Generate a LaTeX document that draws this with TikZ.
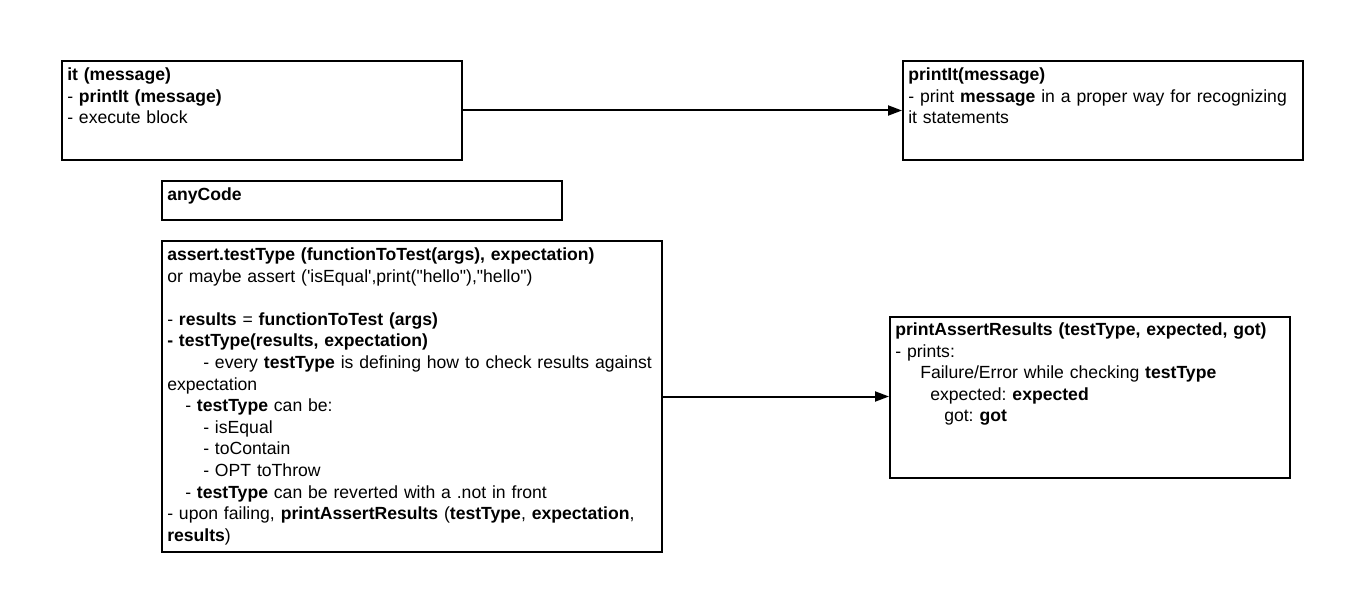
\documentclass[tikz,border=0pt]{standalone}
\usepackage{fontspec}
\setmainfont{Liberation Sans}[Ligatures=TeXOff]
\usetikzlibrary{arrows.meta}
\frenchspacing
\begin{document}
\begin{tikzpicture}[x=0.75pt,y=-0.75pt,
  box/.style={draw=black, line width=1.5pt, fill=white, inner sep=0pt},
  txt/.style={anchor=base west, inner sep=0pt, text width=525pt, align=left,
    font=\fontsize{13.2}{16.2}\selectfont\frenchspacing},
  link/.style={line width=1.5pt, -{Triangle[length=10.5pt,width=7.5pt]}}]
\useasboundingbox (0,0) rectangle (1359,609);

% frames
\node[box, minimum width=300pt, minimum height=74.25pt] (it) at (262,110.5) {};
\node[box, minimum width=300pt, minimum height=74.25pt] (printit) at (1103,110.5) {};
\node[box, minimum width=300pt, minimum height=29.25pt] (anycode) at (362,200.5) {};
\node[box, minimum width=375pt, minimum height=233.25pt] (assert) at (412,396.5) {};
\node[box, minimum width=300pt, minimum height=120.75pt] (printassert) at (1090,397.5) {};

% contents
\node[txt] (itText) at (67,80.5) {\textbf{it (message)}\\
- \textbf{printIt (message)}\\
- execute block};

\node[txt] (printitText) at (908,80.5) {\textbf{printIt(message)}\\
- print \textbf{message} in a proper way for recognizing\\
it statements};

\node[txt] (anycodeText) at (167,200.5) {\textbf{anyCode}};

\node[txt] (assertText) at (167,260.5) {\textbf{assert.testType (functionToTest(args), expectation)}\\
or maybe assert ('isEqual',print("hello"),"hello")\\
\mbox{}\\
- \textbf{results} = \textbf{functionToTest (args)}\\
\textbf{- testType(results, expectation)}\\
\hspace*{27pt}- every \textbf{testType} is defining how to check results against\\
expectation\\
\hspace*{13.5pt}- \textbf{testType} can be:\\
\hspace*{27pt}- isEqual\\
\hspace*{27pt}- toContain\\
\hspace*{27pt}- OPT toThrow\\
\hspace*{13.5pt}- \textbf{testType} can be reverted with a .not in front\\
- upon failing, \textbf{printAssertResults} (\textbf{testType}, \textbf{expectation},\\
\textbf{results})};

\node[txt] (printassertText) at (895,335.5) {\textbf{printAssertResults (testType, expected, got)}\\
- prints:\\
\hspace*{18.75pt}Failure/Error while checking \textbf{testType}\\
\hspace*{26.25pt}expected: \textbf{expected}\\
\hspace*{36.75pt}got: \textbf{got}};

% connectors
\draw[link] (it.east) -- (printit.west);
\draw[link] (assert.east) -- (assert.east -| printassert.west);
\end{tikzpicture}
\end{document}
